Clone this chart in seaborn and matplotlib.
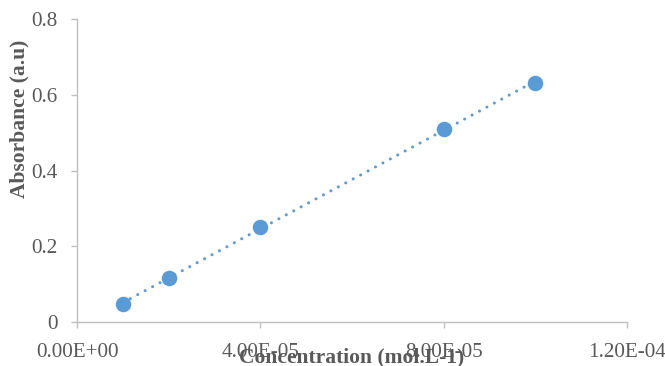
import matplotlib
matplotlib.use("Agg")
import matplotlib.pyplot as plt
import seaborn as sns
import pandas as pd

# Calibration data
concentration = [1.0e-5, 2.0e-5, 4.0e-5, 8.0e-5, 1.0e-4]
absorbance = [0.048, 0.116, 0.250, 0.510, 0.632]

x_ticks = [0.0, 4.0e-5, 8.0e-5, 1.2e-4]
x_tick_labels = ["0.00E+00", "4.00E-05", "8.00E-05", "1.20E-04"]
y_ticks = [0.0, 0.2, 0.4, 0.6, 0.8]
y_tick_labels = ["0", "0.2", "0.4", "0.6", "0.8"]

df = pd.DataFrame({"conc": concentration, "abs": absorbance})

sns.set_theme(style="white")
plt.rcParams["font.family"] = ["Liberation Serif", "DejaVu Serif"]

blue = "#5B9BD5"
grey = "#BFBFBF"
text_grey = "#595959"

fig = plt.figure(figsize=(6.65, 3.66), dpi=100)
ax = fig.add_axes([0.1158, 0.1202, 0.8271, 0.8278])

# Linear trendline (least squares), dotted
sns.regplot(data=df, x="conc", y="abs", ax=ax, scatter=False, ci=None,
            truncate=True,
            line_kws=dict(color=blue, lw=2.2, linestyle=(0, (0.01, 2.75)),
                          dash_capstyle="round", zorder=2))
# Measured points
sns.scatterplot(data=df, x="conc", y="abs", ax=ax, s=125, color=blue,
                edgecolor=blue, linewidth=0, zorder=3, legend=False)

ax.set_xlim(0, 1.2e-4)
ax.set_ylim(0, 0.8)
ax.set_xticks(x_ticks)
ax.set_xticklabels(x_tick_labels)
ax.set_yticks(y_ticks)
ax.set_yticklabels(y_tick_labels)

for side in ["top", "right"]:
    ax.spines[side].set_visible(False)
for side in ["left", "bottom"]:
    ax.spines[side].set_color(grey)
    ax.spines[side].set_linewidth(1.0)

ax.tick_params(axis="both", which="major", direction="out", length=4,
               width=1.0, color=grey, labelsize=15.2, labelcolor=text_grey)
ax.tick_params(axis="y", pad=10)
ax.tick_params(axis="x", pad=11)
ax.tick_params(left=True, bottom=True)

ax.set_xlabel("Concentration (mol.L-1)", fontsize=15.5, fontweight="bold",
              color=text_grey)
ax.set_ylabel("Absorbance (a.u)", fontsize=15.5, fontweight="bold",
              color=text_grey)
ax.xaxis.label.set_va("center")
ax.yaxis.label.set_va("center")
ax.xaxis.set_label_coords(0.5, -0.117)
ax.yaxis.set_label_coords(-0.104, 0.67)

fig.savefig("out.png", dpi=100)
